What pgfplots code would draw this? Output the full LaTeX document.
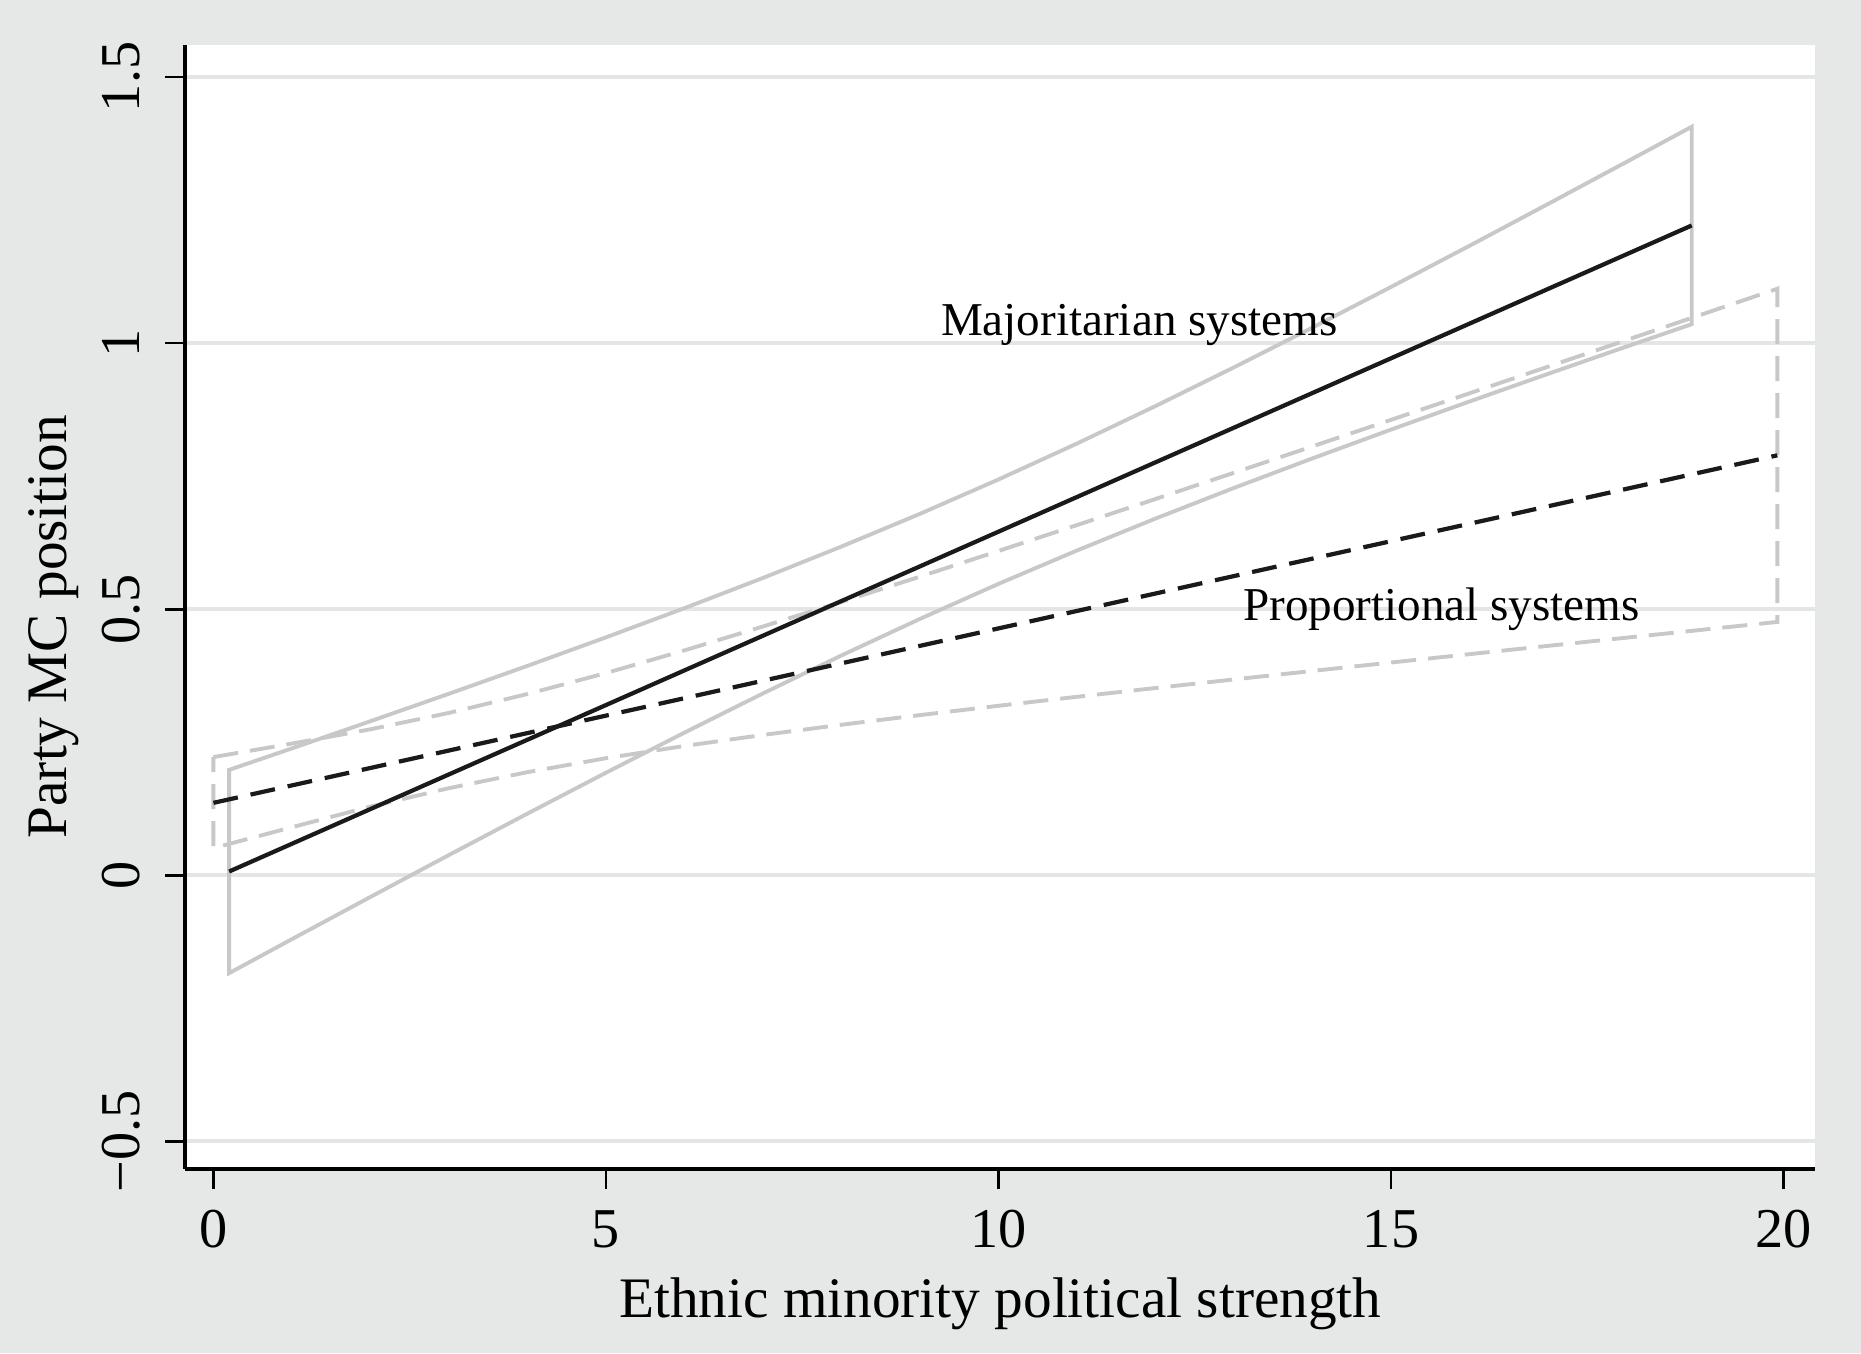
\documentclass[border=0pt]{standalone}
\usepackage{fontspec}
\setmainfont{Liberation Serif}
\usepackage{pgfplots}
\pgfplotsset{compat=1.18}
\definecolor{bggray}{RGB}{230,232,231}
\definecolor{gridgray}{RGB}{228,230,229}
\definecolor{cigray}{RGB}{200,200,200}
\definecolor{linek}{RGB}{26,26,26}
\begin{document}
\begin{tikzpicture}
\path[fill=bggray, use as bounding box] (-1.854,-1.84) rectangle (16.756,11.69);
\begin{axis}[
  at={(0,0)}, anchor=south west,
  scale only axis,
  width=16.296cm, height=11.24cm,
  xmin=-0.357, xmax=20.40,
  ymin=-0.552, ymax=1.560,
  axis x line*=bottom, axis y line*=left,
  axis line style={-, black, line width=1.1pt},
  axis background/.style={fill=white},
  xtick={0,5,10,15,20},
  xticklabels={0,5,10,15,20},
  ytick={-0.5,0,0.5,1,1.5},
  yticklabels={−0.5,0,0.5,1,1.5},
  tick align=outside,
  major tick length=0.2cm,
  tick style={black, line width=0.8pt},
  ymajorgrids,
  grid style={gridgray, line width=1.1pt},
  ticklabel style={font=\fontsize{16}{19}\selectfont},
  yticklabel style={rotate=90, anchor=base},
  xticklabel style={anchor=base},
  xticklabel shift=0.58cm,
  yticklabel shift=0.26cm,
  xlabel={Ethnic minority political strength},
  ylabel={Party MC position},
  label style={font=\fontsize{16.3}{19}\selectfont},
  xlabel style={at={(axis description cs:0.5,-0.1321)}, anchor=base},
  ylabel style={at={(axis description cs:-0.0805,0.4825)}, anchor=center, rotate=0},
  clip=false,
]
% Majoritarian CI outline
\addplot[cigray, line width=1.1pt, line join=miter] coordinates {
(0.2,0.198) (1,0.2383) (2,0.2894) (3,0.3410) (4,0.3934) (5,0.4470) (6,0.5018) (7,0.5586) (8,0.6176) (9,0.6791) (10,0.7437) (11,0.8112) (12,0.8816) (13,0.9544) (14,1.0291) (15,1.1054) (16,1.1828) (17,1.2613) (18,1.3404) (18.83,1.4064)
(18.83,1.0354) (18,0.9934) (17,0.9421) (16,0.8902) (15,0.8374) (14,0.7833) (13,0.7278) (12,0.6702) (11,0.6102) (10,0.5475) (9,0.4817) (8,0.4130) (7,0.3416) (6,0.2680) (5,0.1926) (4,0.1158) (3,0.0380) (2,-0.0408) (1,-0.1201) (0.2,-0.184)
} -- cycle;
% Proportional CI outline
\addplot[cigray, line width=1.1pt, dash pattern=on 0.25cm off 0.12cm] coordinates {
(0,0.222) (1,0.2474) (2,0.2742) (3,0.3050) (4,0.3405) (5,0.3799) (6,0.4225) (7,0.4674) (8,0.5136) (9,0.5611) (10,0.6093) (11,0.6580) (12,0.7070) (13,0.7563) (14,0.8059) (15,0.8557) (16,0.9056) (17,0.9556) (18,1.0056) (19,1.0558) (19.92,1.1020)
(19.92,0.4760) (19,0.4618) (18,0.4464) (17,0.4310) (16,0.4154) (15,0.3997) (14,0.3839) (13,0.3679) (12,0.3518) (11,0.3353) (10,0.3184) (9,0.3009) (8,0.2828) (7,0.2636) (6,0.2429) (5,0.2199) (4,0.1937) (3,0.1636) (2,0.1290) (1,0.0902) (0,0.051)
} -- cycle;
% Majoritarian fit
\addplot[linek, line width=1.2pt] coordinates {(0.2,0.007) (18.83,1.2209)};
% Proportional fit
\addplot[linek, line width=1.2pt, dash pattern=on 0.25cm off 0.13cm] coordinates {(0,0.136) (19.92,0.789)};
\node[anchor=base west, inner sep=0pt, font=\fontsize{13.4}{16}\selectfont] at (axis cs:9.26,1.015) {Majoritarian systems};
\node[anchor=base west, inner sep=0pt, font=\fontsize{13.4}{16}\selectfont] at (axis cs:13.11,0.478) {Proportional systems};
\end{axis}
\end{tikzpicture}
\end{document}
